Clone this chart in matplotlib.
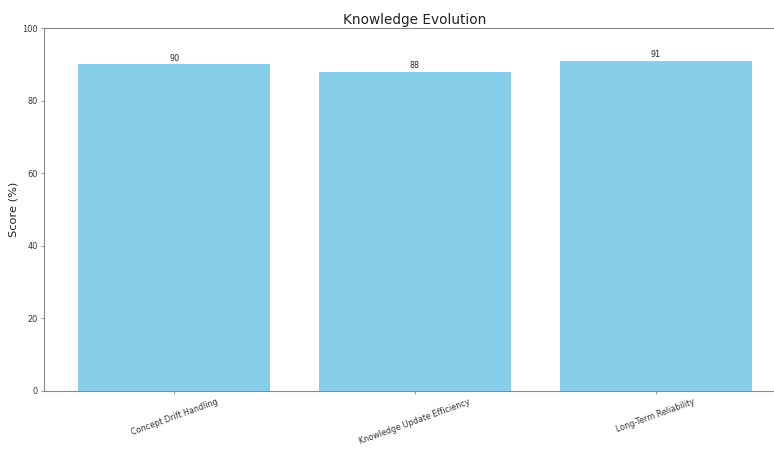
import matplotlib.pyplot as plt

# data
categories = ["Concept Drift Handling", "Knowledge Update Efficiency", "Long-Term Reliability"]
scores = [90, 88, 91]

fig = plt.figure(figsize=(7.74, 4.49), dpi=100)
W, H = 774, 449
ax = fig.add_axes([44 / W, (H - 391) / H, 742 / W, (391 - 28) / H])

bars = ax.bar(categories, scores, color="skyblue", width=0.8)
ax.bar_label(bars, labels=[str(s) for s in scores], fontsize=5.8, padding=1.2, color="#222222")

ax.set_ylim(0, 100)
ax.set_title("Knowledge Evolution", fontsize=9.8, color="#222222", pad=3)
ax.set_ylabel("Score (%)", fontsize=8.2, color="#222222", labelpad=3)
ax.tick_params(axis="both", labelsize=5.9, colors="#333333", length=2.5, width=0.6, pad=2)
ax.tick_params(color="#888888")
plt.setp(ax.get_xticklabels(), rotation=20, ha="center", fontsize=5.8)
for s in ax.spines.values():
    s.set_color("#888888")
    s.set_linewidth(0.8)

fig.savefig("out.png", dpi=100)
